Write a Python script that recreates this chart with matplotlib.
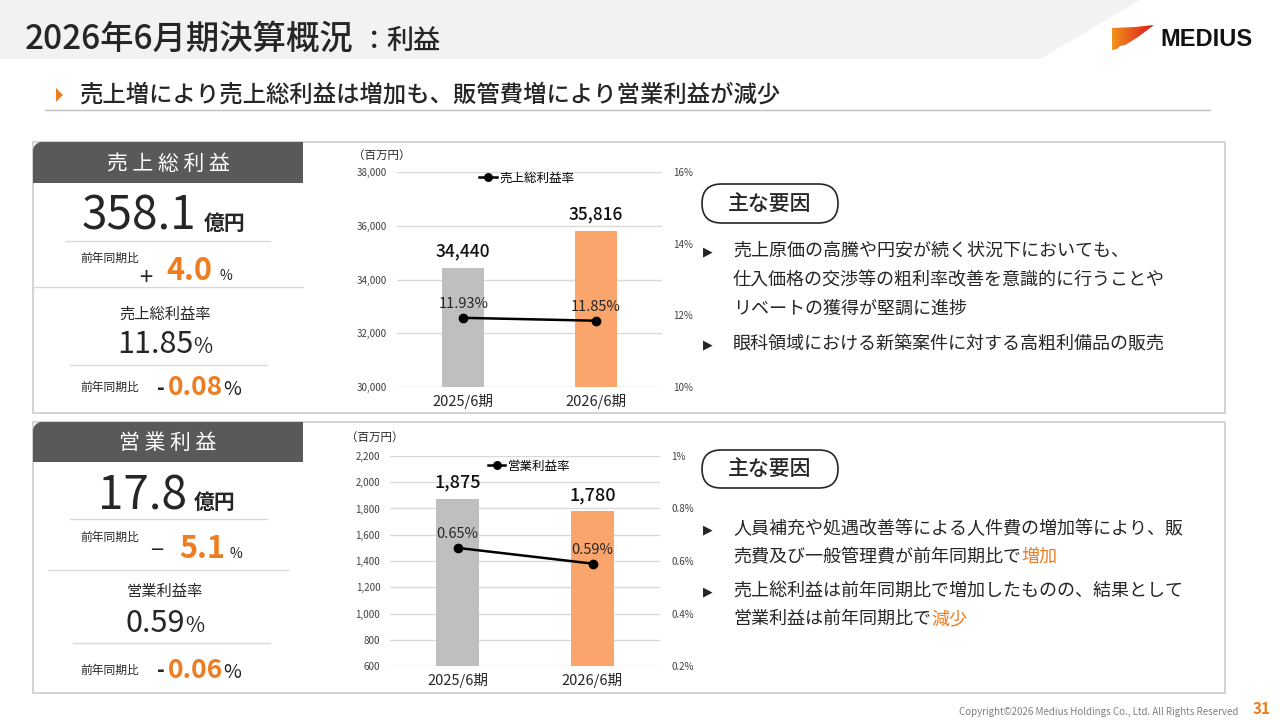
import matplotlib
matplotlib.use('Agg')
import matplotlib.pyplot as plt
from matplotlib.patches import Polygon, Rectangle, FancyBboxPatch
from matplotlib.colors import LinearSegmentedColormap
import numpy as np

plt.rcParams['font.family'] = ['Noto Sans CJK JP', 'DejaVu Sans']

# ---------------- data ----------------
periods = ['2025/6期', '2026/6期']
gross_profit = [34440, 35816]          # 百万円
gross_margin = [11.93, 11.85]          # %
op_profit = [1875, 1780]               # 百万円
op_margin = [0.65, 0.59]               # %

gp_ticks = [30000, 32000, 34000, 36000, 38000]
gm_ticks = [10, 12, 14, 16]
gm_ticklabels = ['10%', '12%', '14%', '16%']
op_ticks = [600, 800, 1000, 1200, 1400, 1600, 1800, 2000, 2200]
om_ticks = [0.2, 0.4, 0.6, 0.8, 1.0]
om_ticklabels = ['0.2%', '0.4%', '0.6%', '0.8%', '1%']

# ---------------- style ----------------
W, H = 1280, 720
GRAY_BAR = '#bfbfbf'
ORANGE_BAR = '#f9a56b'
ORANGE = '#ee7d22'
DARK = '#262626'
HEAD = '#595959'
BORDER = '#d0d0d0'
THIN = '#d9d9d9'

fig = plt.figure(figsize=(12.8, 7.2), dpi=100)
bg = fig.add_axes([0, 0, 1, 1])
bg.set_xlim(0, W)
bg.set_ylim(H, 0)
bg.axis('off')
renderer = fig.canvas.get_renderer()


def runs(x, y, parts, ha='left', va='baseline'):
    arts = []
    cx = x
    for s, kw, gap in parts:
        cx += gap
        t = bg.text(cx, y, s, ha='left', va=va, **kw)
        w = t.get_window_extent(renderer).width
        arts.append(t)
        cx += w
    if ha == 'center':
        shift = (cx - x) / 2
        for t in arts:
            px, py = t.get_position()
            t.set_x(px - shift)
    return cx


# ---------------- header ----------------
bg.add_patch(Polygon([(0, 0), (1140, 0), (1040, 59), (0, 59)], closed=True,
                     facecolor='#f2f2f2', edgecolor='none', zorder=0))
runs(25, 49, [('2026年6月期決算概況', dict(fontsize=24, color=DARK, fontweight='medium'), 0),
              ('：', dict(fontsize=19, color=DARK, fontweight='medium'), 6),
              ('利益', dict(fontsize=19.5, color=DARK, fontweight='medium'), 0)])

# logo
logo_pts = [(1112, 28), (1135, 27), (1154, 25), (1146, 31), (1138, 37), (1130, 42),
            (1125, 45), (1120, 46), (1117, 49), (1112, 50)]
logo = Polygon(logo_pts, closed=True, facecolor='none', edgecolor='none')
bg.add_patch(logo)
grad = np.linspace(0, 1, 100).reshape(1, -1)
cm = LinearSegmentedColormap.from_list('lg', ['#f39a1e', '#e8531c', '#d7141c'])
im = bg.imshow(grad, extent=(1110, 1156, 52, 24), cmap=cm, aspect='auto', zorder=1)
im.set_clip_path(logo)
bg.text(1160, 39, 'MEDIUS', fontsize=17, fontweight='bold', color='#111111',
        family=['Liberation Sans Narrow', 'Liberation Sans', 'DejaVu Sans'], va='center', ha='left')

# subtitle
bg.add_patch(Polygon([(56, 88), (63, 95), (56, 102)], closed=True, facecolor=ORANGE, edgecolor='none'))
bg.text(79, 95, '売上増により売上総利益は増加も、販管費増により営業利益が減少', fontsize=16.8,
        fontweight='medium', color=DARK, va='center', ha='left')
bg.plot([45, 1210], [110, 110], color='#bfbfbf', lw=1)

# ---------------- panels ----------------
def tab(y0, y1, label):
    r = 9
    x0, x1 = 33, 303
    th = np.linspace(np.pi, 1.5 * np.pi, 12)
    arc = [(x0 + r + r * np.cos(t), y0 + r + r * np.sin(t)) for t in th]
    verts = [(x0, y1)] + arc + [(x1, y0), (x1, y1), (x0, y1)]
    bg.add_patch(Polygon(verts, closed=True, facecolor=HEAD, edgecolor='none', zorder=2))
    bg.text((x0 + x1) / 2, (y0 + y1) / 2 + 1, label, fontsize=15, color='white',
            ha='center', va='center', zorder=3)


for (y0, y1) in [(142, 413), (422, 693)]:
    bg.add_patch(Rectangle((33, y0), 1225 - 33, y1 - y0, facecolor='none',
                           edgecolor=BORDER, lw=1.3, zorder=1))

tab(142, 183, '売 上 総 利 益')
tab(422, 462, '営 業 利 益')

small = dict(fontsize=8.5, color=DARK)

# --- panel 1 left ---
runs(82, 230, [('358.1', dict(fontsize=33, color=DARK), 0),
               ('億円', dict(fontsize=15, color=DARK, fontweight='bold'), 7)])
bg.plot([66, 270], [241, 241], color=THIN, lw=1)
bg.text(80, 258, '前年同期比', va='center', ha='left', **small)
bg.text(146, 278, '+', fontsize=17, color=DARK, ha='center', va='center')
runs(166, 280, [('4.0', dict(fontsize=22, color=ORANGE, fontweight='bold'), 0),
                ('%', dict(fontsize=10, color=DARK), 8)])
bg.plot([33, 303], [287, 287], color=THIN, lw=1)
bg.text(165, 314, '売上総利益率', fontsize=11, color=DARK, ha='center', va='center')
runs(165, 353, [('11.85', dict(fontsize=22, color=DARK), 0),
                ('%', dict(fontsize=15, color=DARK), 0)], ha='center')
bg.plot([70, 267], [365, 365], color=THIN, lw=1)
bg.text(80, 387, '前年同期比', va='center', ha='left', **small)
bg.text(161, 388, '-', fontsize=15, color=DARK, ha='center', va='center', fontweight='bold')
runs(168, 395, [('0.08', dict(fontsize=19, color=ORANGE, fontweight='bold'), 0),
                ('%', dict(fontsize=14, color=DARK), 0)])

# --- panel 2 left ---
runs(98, 509, [('17.8', dict(fontsize=33, color=DARK), 0),
               ('億円', dict(fontsize=15, color=DARK, fontweight='bold'), 7)])
bg.plot([70, 267], [519, 519], color=THIN, lw=1)
bg.text(80, 537, '前年同期比', va='center', ha='left', **small)
bg.text(157, 551, '−', fontsize=17, color=DARK, ha='center', va='center')
runs(179, 558, [('5.1', dict(fontsize=22, color=ORANGE, fontweight='bold'), 0),
                ('%', dict(fontsize=10, color=DARK), 5)])
bg.plot([48, 288], [570, 570], color=THIN, lw=1)
bg.text(165, 591, '営業利益率', fontsize=11, color=DARK, ha='center', va='center')
runs(165, 632, [('0.59', dict(fontsize=22, color=DARK), 0),
                ('%', dict(fontsize=15, color=DARK), 0)], ha='center')
bg.plot([73, 270], [643, 643], color=THIN, lw=1)
bg.text(80, 670, '前年同期比', va='center', ha='left', **small)
bg.text(161, 671, '-', fontsize=15, color=DARK, ha='center', va='center', fontweight='bold')
runs(168, 678, [('0.06', dict(fontsize=19, color=ORANGE, fontweight='bold'), 0),
                ('%', dict(fontsize=14, color=DARK), 0)])


# ---------------- charts ----------------
def chart(rect, values, margins, ylim, yticks, y2lim, y2ticks, y2labels,
          leg_label, leg_xy, bar_fs, unit_y):
    x0, y0, x1, y1 = rect
    ax = fig.add_axes([x0 / W, 1 - y1 / H, (x1 - x0) / W, (y1 - y0) / H])
    ax.patch.set_alpha(0)
    x = np.arange(len(periods))
    ax.bar(x, values, width=0.32, color=[GRAY_BAR, ORANGE_BAR], zorder=2)
    ax.set_xlim(-0.5, 1.5)
    ax.set_ylim(*ylim)
    ax.set_yticks(yticks)
    ax.set_yticklabels([f'{v:,}' for v in yticks])
    ax.grid(axis='y', color=THIN, lw=1, zorder=0)
    ax.set_axisbelow(True)
    for s in ax.spines.values():
        s.set_visible(False)
    ax.tick_params(axis='y', length=0, labelsize=7, labelcolor='#404040', pad=7)
    ax.set_xticks(x)
    ax.set_xticklabels(periods, fontsize=10.5, color=DARK)
    ax.tick_params(axis='x', length=0, pad=5)
    for xi, v in zip(x, values):
        ax.annotate(f'{v:,}', (xi, v), xytext=(0, 5), textcoords='offset points',
                    ha='center', va='bottom', fontsize=bar_fs, color='#111111',
                    fontweight='medium')
    ax2 = ax.twinx()
    ax2.set_ylim(*y2lim)
    ax2.set_yticks(y2ticks)
    ax2.set_yticklabels(y2labels)
    for s in ax2.spines.values():
        s.set_visible(False)
    ax2.tick_params(axis='y', length=0, labelsize=7, labelcolor='#404040', pad=8)
    ax2.plot(x, margins, color='black', marker='o', ms=6, lw=1.8, label=leg_label, zorder=3)
    for xi, m in zip(x, margins):
        ax2.annotate(f'{m:.2f}%', (xi, m), xytext=(0, 5), textcoords='offset points',
                     ha='center', va='bottom', fontsize=10.5, color=DARK)
    ax2.legend(loc='center', bbox_to_anchor=leg_xy, frameon=False, fontsize=9,
               handlelength=1.4, handletextpad=0.2, borderpad=0, markerscale=0.9)
    bg.text(x0 - 44, unit_y, '（百万円）', fontsize=8.3, color=DARK, ha='left', va='center')
    return ax, ax2


chart((397, 172, 662, 387), gross_profit, gross_margin, (30000, 38000), gp_ticks,
      (10, 16), gm_ticks, gm_ticklabels, '売上総利益率', (0.49, 0.972), 12.5, 155)
chart((390, 456, 660, 666), op_profit, op_margin, (600, 2200), op_ticks,
      (0.2, 1.0), om_ticks, om_ticklabels, '営業利益率', (0.515, 0.952), 13, 437)

# ---------------- right text panels ----------------
def pill(y0, h):
    bg.add_patch(FancyBboxPatch((702, y0), 136, h, boxstyle=f'round,pad=0,rounding_size={h/2}',
                                facecolor='white', edgecolor=DARK, lw=1.2, zorder=2))
    bg.text(770, y0 + h / 2 + 1, '主な要因', fontsize=15, color=DARK, ha='center', va='center',
            zorder=3, fontweight='medium')


def bullet(y):
    bg.text(708, y, '▶', fontsize=9, color=DARK, ha='center', va='center', family=['DejaVu Sans'])


body = dict(fontsize=13, color=DARK, ha='left', va='center')
pill(184, 39)
bullet(252)
bg.text(733, 251, '売上原価の高騰や円安が続く状況下においても、', **body)
bg.text(733, 280, '仕入価格の交渉等の粗利率改善を意識的に行うことや', **body)
bg.text(733, 309, 'リベートの獲得が堅調に進捗', **body)
bullet(345)
bg.text(733, 344, '眼科領域における新築案件に対する高粗利備品の販売', **body)

pill(450, 38)
bullet(530)
bg.text(733, 529, '人員補充や処遇改善等による人件費の増加等により、販', **body)
runs(733, 557, [('売費及び一般管理費が前年同期比で', dict(fontsize=13, color=DARK), 0),
                ('増加', dict(fontsize=13, color=ORANGE), 0)], va='center')
bullet(592)
bg.text(733, 591, '売上総利益は前年同期比で増加したものの、結果として', **body)
runs(733, 619, [('営業利益は前年同期比で', dict(fontsize=13, color=DARK), 0),
                ('減少', dict(fontsize=13, color=ORANGE), 0)], va='center')

# ---------------- footer ----------------
bg.text(1238, 712, 'Copyright©2026 Medius Holdings Co., Ltd. All Rights Reserved', fontsize=7,
        color='#808080', ha='right', va='center')
bg.text(1262, 709, '31', fontsize=11, color=ORANGE, fontweight='bold', ha='center', va='center')

bg.set_xlim(0, W)
bg.set_ylim(H, 0)
fig.savefig('out.png', dpi=100)
